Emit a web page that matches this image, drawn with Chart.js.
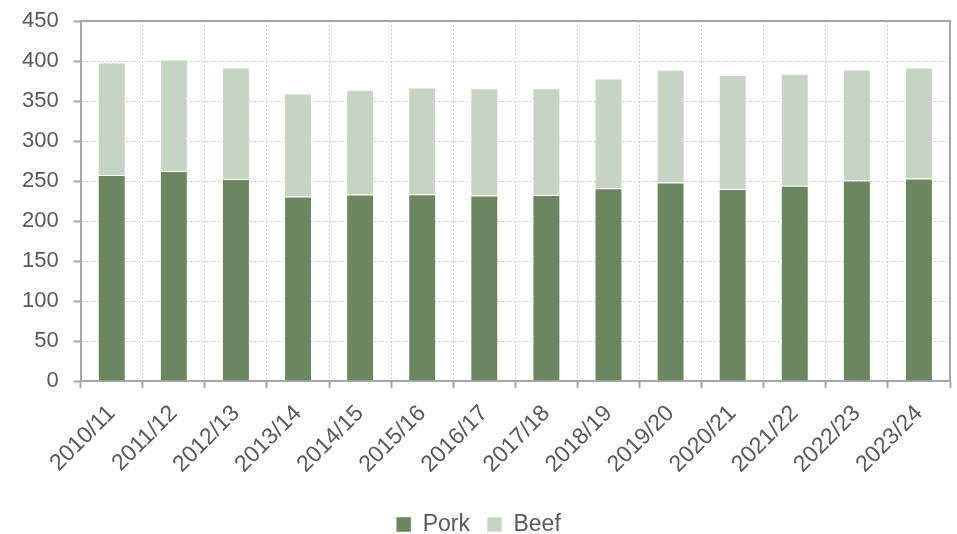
<!DOCTYPE html>
<html>
<head>
<meta charset="utf-8">
<script src="https://cdn.jsdelivr.net/npm/chart.js@4/dist/chart.umd.min.js"></script>
<style>
  html, body { margin: 0; padding: 0; background: #ffffff; }
  #wrap { width: 957px; height: 534px; position: relative; }
</style>
</head>
<body>
<div id="wrap"><canvas id="c"></canvas></div>
<script>
// Marketing years
const seasons = ['2010/11', '2011/12', '2012/13', '2013/14', '2014/15', '2015/16', '2016/17',
                 '2017/18', '2018/19', '2019/20', '2020/21', '2021/22', '2022/23', '2023/24'];

// Stacked series
const pork = [257.5, 262.5, 252.5, 230.5, 233, 233.5, 232, 232.5, 241, 248, 240, 244, 250.5, 253];
const beef = [140.5, 139.5, 139.5, 129, 131, 133.5, 134, 133.5, 137, 141, 142.5, 140, 139, 139];

// Value axis ticks
const yTicks = [0, 50, 100, 150, 200, 250, 300, 350, 400, 450];

const axisGrey = '#a6a6a6';
const textGrey = '#595959';
const fontFamily = 'Liberation Sans';
const legendGap = 17;      // horizontal space between legend entries
const legendTrim = 12;     // padding removed under the legend row
const xAxisBand = 115;     // room under the plot for the slanted labels

// Closes the plot frame along the top and right edges
const frame = {
  id: 'frame',
  afterDatasetsDraw(chart) {
    const { ctx, chartArea: a } = chart;
    ctx.save();
    ctx.strokeStyle = axisGrey;
    ctx.lineWidth = 2;
    ctx.beginPath();
    ctx.moveTo(a.left, a.top);
    ctx.lineTo(a.right, a.top);
    ctx.lineTo(a.right, a.bottom);
    ctx.stroke();
    ctx.restore();
  }
};

// Keeps the legend row close to the bottom edge
const legendLow = {
  id: 'legendLow',
  beforeInit(chart) {
    const legend = chart.legend;
    if (!legend) return;
    const fit = legend.fit;
    legend.fit = function () {
      fit.call(this);
      this.height -= legendTrim;
    };
  }
};

new Chart(document.getElementById('c'), {
  type: 'bar',
  data: {
    labels: seasons,
    datasets: [
      { label: 'Pork', data: pork, backgroundColor: '#6b8762', borderColor: 'rgba(255,255,255,0.45)', borderWidth: 1 },
      { label: 'Beef', data: beef, backgroundColor: '#c7d3c3', borderColor: 'rgba(255,255,255,0.6)', borderWidth: 1 }
    ]
  },
  options: {
    responsive: true,
    maintainAspectRatio: false,
    animation: false,
    layout: { padding: { top: 21, right: 7, left: 7, bottom: 0 } },
    datasets: { bar: { categoryPercentage: 1.0, barPercentage: 0.45 } },
    plugins: {
      legend: {
        position: 'bottom',
        labels: {
          font: { family: fontFamily, size: 23, lineHeight: 1.0 },
          color: textGrey,
          boxWidth: 15,
          boxHeight: 15,
          padding: legendGap
        }
      },
      tooltip: { enabled: false }
    },
    scales: {
      x: {
        stacked: true,
        offset: true,
        afterFit(axis) { axis.height = xAxisBand; },
        grid: {
          offset: true,
          color: '#d0d0d0',
          lineWidth: 1,
          tickColor: axisGrey,
          tickLength: 7,
          tickWidth: 2,
          tickBorderDash: [],
          drawTicks: true
        },
        border: { color: axisGrey, width: 2, dash: [2, 2] },
        ticks: {
          font: { family: fontFamily, size: 23 },
          color: textGrey,
          minRotation: 45,
          maxRotation: 45,
          padding: 12
        }
      },
      y: {
        stacked: true,
        min: 0,
        max: 450,
        afterBuildTicks(axis) { axis.ticks = yTicks.map(v => ({ value: v })); },
        afterFit(axis) { axis.paddingTop = 0; },
        grid: {
          color: '#d0d0d0',
          lineWidth: 1,
          tickColor: axisGrey,
          tickLength: 7,
          tickWidth: 2,
          tickBorderDash: [],
          drawTicks: true
        },
        border: { color: axisGrey, width: 2, dash: [2, 2] },
        ticks: {
          font: { family: fontFamily, size: 22 },
          color: textGrey,
          padding: 15
        }
      }
    }
  },
  plugins: [frame, legendLow]
});
</script>
</body>
</html>
